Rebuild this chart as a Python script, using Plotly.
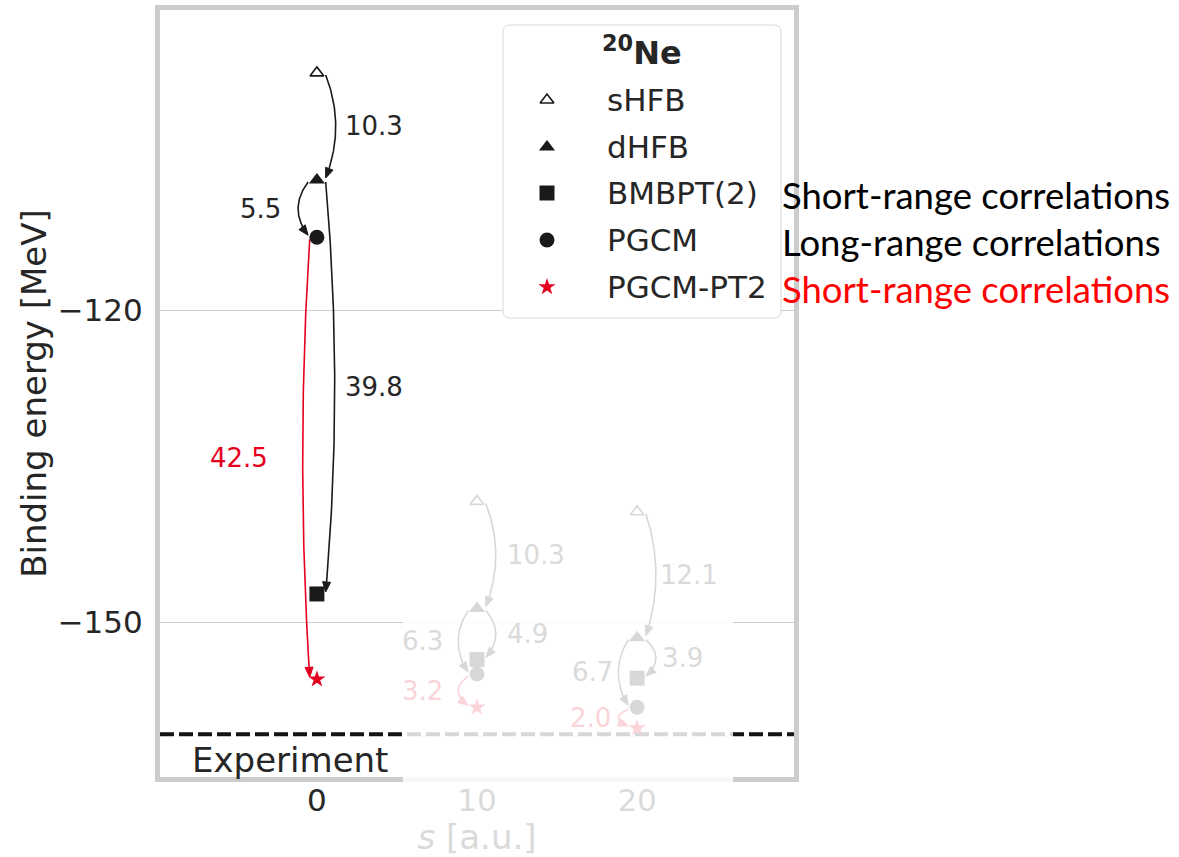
import numpy as np
import plotly.graph_objects as go

# ---------------------------------------------------------------- data
s_values = [0, 10, 20]
e_shfb = [-97.2, -138.4, -139.4]
e_dhfb = [-107.5, -148.7, -151.5]
e_bmbpt2 = [-147.3, -153.6, -155.4]
e_pgcm = [-113.0, -155.0, -158.2]
e_pgcm_pt2 = [-155.5, -158.2, -160.2]
e_experiment = -160.8

x_tick_vals = [0, 10, 20]
y_tick_vals = [-150, -120]
series_names = ["sHFB", "dHFB", "BMBPT(2)", "PGCM", "PGCM-PT2"]
side_notes = ["Short-range correlations", "Long-range correlations", "Short-range correlations"]

# ---------------------------------------------------------------- geometry / style
W, H = 1179, 857
PL, PR, PT, PB = 160, 794, 10, 777          # plot box in pixels
X_RANGE = [-9.8, 29.8]
Y_RANGE = [-164.9, -91.15]

DARK = "#1a1a1a"
TEXT = "#262626"
RED = "#e6001f"
FRAME = "#cccccc"
FONT = "DejaVu Sans"
FADE = 0.83                                  # white veil over the s > 0 columns
VEIL_X0, VEIL_X1, VEIL_TOP = 403, 733, 455


def veiled(hex_color):
    h = hex_color.lstrip("#")
    rgb = [int(h[i:i + 2], 16) for i in (0, 2, 4)]
    out = [round(c * (1 - FADE) + 255 * FADE) for c in rgb]
    return "#%02x%02x%02x" % tuple(out)


def to_px(x, y):
    px = PL + (x - X_RANGE[0]) / (X_RANGE[1] - X_RANGE[0]) * (PR - PL)
    py = PB - (y - Y_RANGE[0]) / (Y_RANGE[1] - Y_RANGE[0]) * (PB - PT)
    return px, py


def to_data(px, py):
    x = X_RANGE[0] + (np.asarray(px) - PL) / (PR - PL) * (X_RANGE[1] - X_RANGE[0])
    y = Y_RANGE[0] + (PB - np.asarray(py)) / (PB - PT) * (Y_RANGE[1] - Y_RANGE[0])
    return x, y


def paper_x(px):
    return (px - PL) / (PR - PL)


def paper_y(py):
    return (PB - py) / (PB - PT)


fig = go.Figure()

# ---------------------------------------------------------------- curved arrows
# (label key, start series, end series, side, colour, bulge in px)
steps = [
    ("dhfb", e_shfb, e_dhfb, +1, DARK, 10),
    ("pgcm", e_dhfb, e_pgcm, -1, DARK, 10),
    ("bmbpt", e_dhfb, e_bmbpt2, +1, DARK, 9),
    ("pt2", e_pgcm, e_pgcm_pt2, -1, RED, 7),
]
label_dx = {
    "dhfb": [1.6, 1.75, 1.3],
    "bmbpt": [1.6, 1.75, 1.4],
    "pgcm": [-2.1, -2.0, -1.4],
    "pt2": [-2.9, -2.0, -1.5],
}
ARROW_OFF, SHRINK, HEAD_L, HEAD_W = 0.55, 2, 10, 8

annotations = []
for key, e_from, e_to, side, color, bulge in steps:
    for i, s in enumerate(s_values):
        off = ARROW_OFF if (key != "pt2" or i > 0) else 0.45
        x0, y0 = to_px(s + side * off, e_from[i])
        x1, y1 = to_px(s + side * off, e_to[i])
        y0 += SHRINK
        y1 -= SHRINK
        b = bulge if i == 0 else 10
        cx, cy = (x0 + x1) / 2 + side * 2 * b, (y0 + y1) / 2
        t = np.linspace(0, 1, 80)
        bx = (1 - t) ** 2 * x0 + 2 * (1 - t) * t * cx + t ** 2 * x1
        by = (1 - t) ** 2 * y0 + 2 * (1 - t) * t * cy + t ** 2 * y1
        ux, uy = x1 - cx, y1 - cy
        n = np.hypot(ux, uy)
        ux, uy = ux / n, uy / n
        basex, basey = x1 - ux * HEAD_L, y1 - uy * HEAD_L
        keep = np.hypot(bx - x1, by - y1) > HEAD_L
        lx = np.append(bx[keep], basex)
        ly = np.append(by[keep], basey)
        dx, dy = to_data(lx, ly)
        fig.add_trace(go.Scatter(x=dx, y=dy, mode="lines", showlegend=False,
                                 hoverinfo="skip", line=dict(color=color, width=1.6)))
        hx = [x1, basex - uy * HEAD_W / 2, basex + uy * HEAD_W / 2, x1]
        hy = [y1, basey + ux * HEAD_W / 2, basey - ux * HEAD_W / 2, y1]
        hdx, hdy = to_data(hx, hy)
        fig.add_trace(go.Scatter(x=hdx, y=hdy, mode="lines", fill="toself", fillcolor=color,
                                 showlegend=False, hoverinfo="skip",
                                 line=dict(color=color, width=1)))
        # energy gain label
        base_col = RED if color == RED else TEXT
        annotations.append(dict(
            x=s + label_dx[key][i], y=(e_from[i] + e_to[i]) / 2, xref="x", yref="y",
            text=f"{e_from[i] - e_to[i]:.1f}", showarrow=False,
            xanchor="left" if side > 0 else "right", yanchor="middle",
            font=dict(family=FONT, size=26, color=base_col if i == 0 else veiled(base_col)),
        ))

# ---------------------------------------------------------------- markers
marker_styles = [
    dict(symbol="triangle-up", size=12, color="white", line=dict(color=DARK, width=1.6)),
    dict(symbol="triangle-up", size=14, color=DARK, line=dict(width=0)),
    dict(symbol="square", size=15, color=DARK, line=dict(width=0)),
    dict(symbol="circle", size=15, color=DARK, line=dict(width=0)),
    dict(symbol="star", size=13, color=RED, line=dict(width=0)),
]
series = [e_shfb, e_dhfb, e_bmbpt2, e_pgcm, e_pgcm_pt2]
for name, vals, mk in zip(series_names, series, marker_styles):
    fig.add_trace(go.Scatter(x=s_values, y=vals, mode="markers", name=name,
                             showlegend=False, marker=mk))

# ---------------------------------------------------------------- legend box (drawn by hand)
LEG_X0, LEG_X1, LEG_Y0, LEG_Y1, LEG_R = 503, 781, 25, 318, 7
LEG_MARK_X, LEG_TEXT_X = 547, 605
LEG_ROWS = [100, 147, 193, 240, 287]


def rounded_box_path(x0, x1, y0, y1, r):
    pts = [("M", x0 + r, y0), ("L", x1 - r, y0), ("Q", x1, y0, x1, y0 + r),
           ("L", x1, y1 - r), ("Q", x1, y1, x1 - r, y1), ("L", x0 + r, y1),
           ("Q", x0, y1, x0, y1 - r), ("L", x0, y0 + r), ("Q", x0, y0, x0 + r, y0)]
    out = []
    for p in pts:
        cmd, coords = p[0], p[1:]
        conv = []
        for k in range(0, len(coords), 2):
            dx, dy = to_data(coords[k], coords[k + 1])
            conv.append(f"{float(dx):.5f},{float(dy):.5f}")
        out.append(cmd + " ".join(conv))
    return " ".join(out) + " Z"


shapes = [
    dict(type="path", xref="x", yref="y", layer="between",
         path=rounded_box_path(LEG_X0, LEG_X1, LEG_Y0, LEG_Y1, LEG_R),
         fillcolor="white", line=dict(color="#d9d9d9", width=1)),
    dict(type="line", xref="x", yref="y", layer="between",
         x0=X_RANGE[0], x1=X_RANGE[1], y0=e_experiment, y1=e_experiment,
         line=dict(color="#141414", width=4, dash="14px,5px")),
    dict(type="rect", xref="paper", yref="paper", layer="above",
         x0=paper_x(VEIL_X0), x1=paper_x(VEIL_X1), y0=paper_y(H), y1=paper_y(VEIL_TOP),
         fillcolor=f"rgba(255,255,255,{FADE})", line=dict(width=0)),
]

for name, mk, row in zip(series_names, marker_styles, LEG_ROWS):
    mx, my = to_data(LEG_MARK_X, row)
    fig.add_trace(go.Scatter(x=[float(mx)], y=[float(my)], mode="markers",
                             showlegend=False, hoverinfo="skip", marker=mk))
    annotations.append(dict(x=paper_x(LEG_TEXT_X), y=paper_y(row), xref="paper", yref="paper",
                            text=name, showarrow=False, xanchor="left", yanchor="middle",
                            font=dict(family=FONT, size=31, color=TEXT)))

annotations.append(dict(x=paper_x((LEG_X0 + LEG_X1) / 2), y=paper_y(51), xref="paper", yref="paper",
                        text="<b><sup>20</sup>Ne</b>", showarrow=False,
                        xanchor="center", yanchor="middle",
                        font=dict(family=FONT, size=32, color=TEXT)))

# notes to the right of the legend
for note, row, col in zip(side_notes, LEG_ROWS[2:], ["black", "black", "#ff0000"]):
    annotations.append(dict(x=paper_x(780), y=paper_y(row + 2), xref="paper", yref="paper",
                            text=note, showarrow=False, xanchor="left", yanchor="middle",
                            font=dict(family="Lato", size=36.5, color=col)))

annotations.append(dict(x=paper_x(190), y=paper_y(760), xref="paper", yref="paper",
                        text="Experiment", showarrow=False, xanchor="left", yanchor="middle",
                        font=dict(family=FONT, size=34, color=TEXT)))

fig.update_layout(
    width=W, height=H,
    margin=dict(l=PL, r=W - PR, t=PT, b=H - PB, pad=0),
    paper_bgcolor="white", plot_bgcolor="white",
    showlegend=False,
    shapes=shapes, annotations=annotations,
    font=dict(family=FONT, color=TEXT),
)
fig.update_xaxes(
    range=X_RANGE, tickvals=x_tick_vals, ticktext=[str(v) for v in x_tick_vals],
    showgrid=False, zeroline=False, showline=True, linecolor=FRAME, linewidth=5,
    mirror=True, ticks="", automargin=False, ticklabelstandoff=-8,
    tickfont=dict(family=FONT, size=31, color=TEXT),
    title=dict(text="<i>s</i> [a.u.]", standoff=14,
               font=dict(family=FONT, size=34, color=veiled(TEXT))),
)
fig.update_yaxes(
    range=Y_RANGE, tickvals=y_tick_vals,
    showgrid=True, gridcolor=FRAME, gridwidth=1.3, zeroline=False,
    showline=True, linecolor=FRAME, linewidth=5, mirror=True, ticks="", automargin=False,
    ticklabelstandoff=6,
    tickfont=dict(family=FONT, size=31, color=TEXT),
    title=dict(text="Binding energy [MeV]", standoff=2,
               font=dict(family=FONT, size=34, color=TEXT)),
)

fig.write_html("out.html")
